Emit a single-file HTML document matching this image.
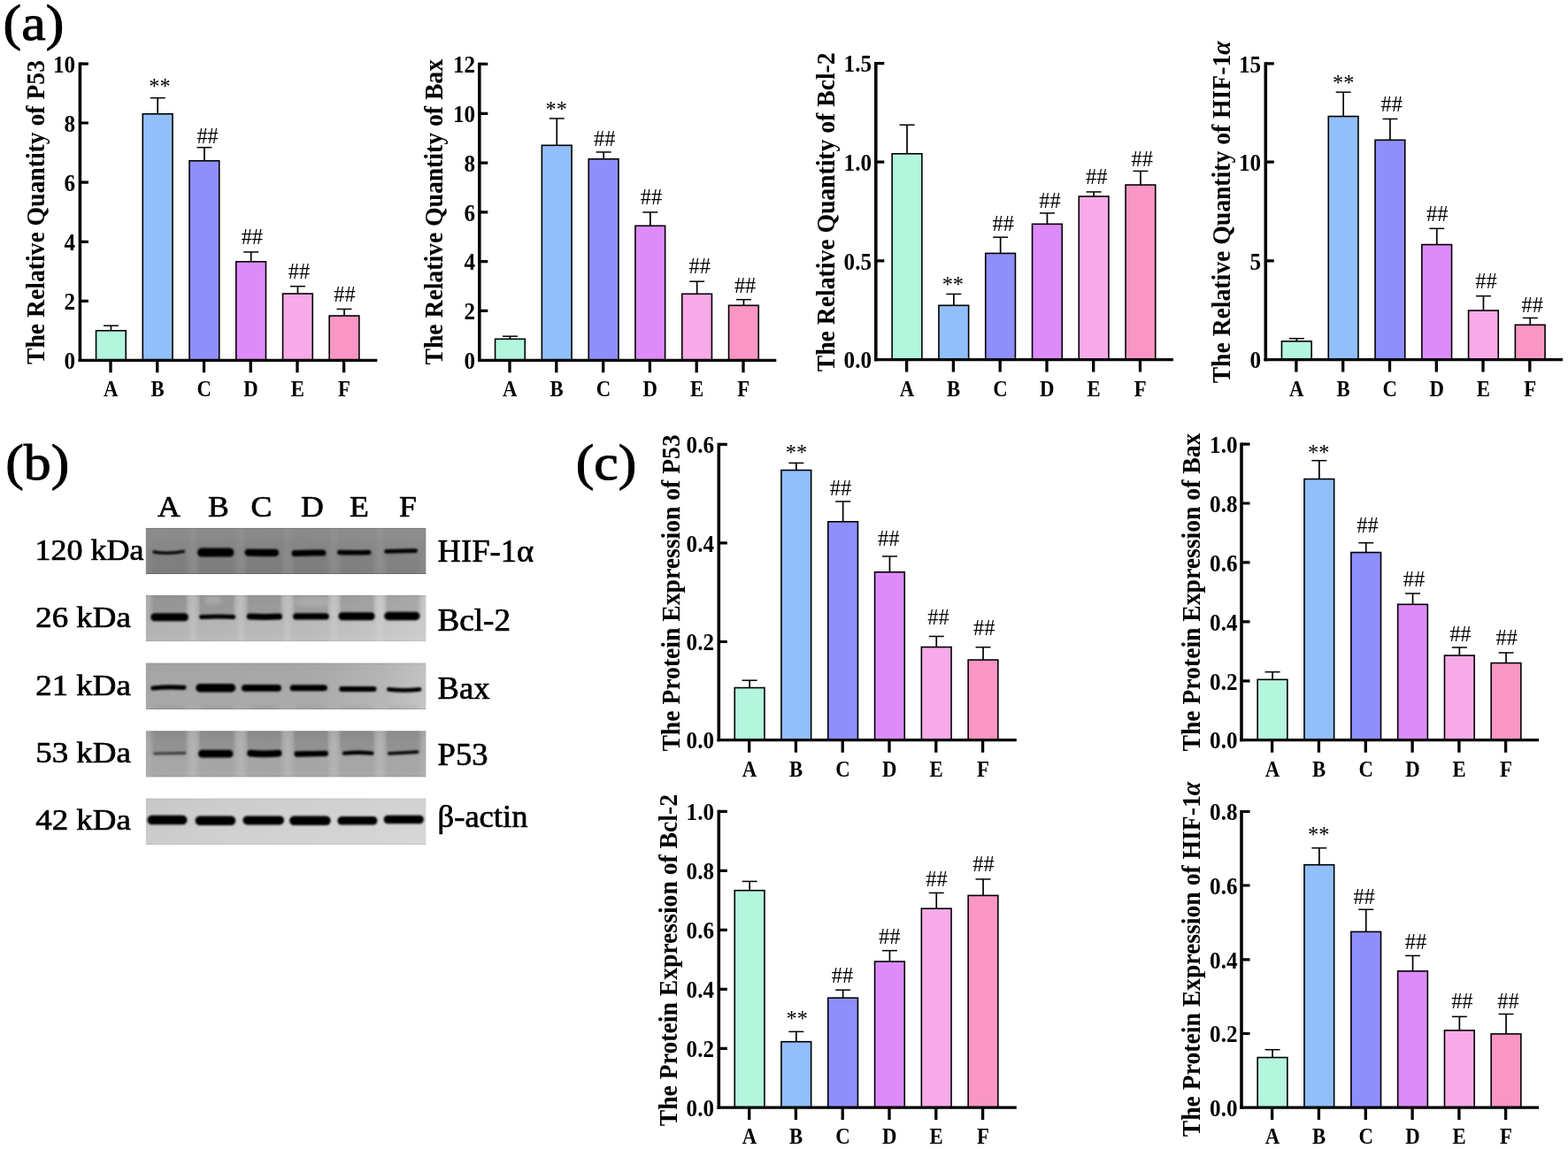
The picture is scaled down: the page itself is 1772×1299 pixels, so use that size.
<!DOCTYPE html>
<html lang="en"><head><meta charset="utf-8"><title>Figure</title><style>
html,body{margin:0;padding:0;background:#fff}
body{width:1772px;height:1299px;overflow:hidden}
svg{display:block}
text{font-family:"Liberation Serif", "DejaVu Serif", serif;fill:#000}
</style></head>
<body>
<svg width="1772" height="1299" viewBox="0 0 1772 1299">
<rect width="1772" height="1299" fill="#fff"/>
<g><path d="M125.45 374.00V368.20" stroke="#000" stroke-width="1.7" fill="none"/><path d="M116.95 368.20H133.95" stroke="#000" stroke-width="1.5" fill="none"/><rect x="108.55" y="373.80" width="33.70" height="33.50" fill="#b3f5dd" stroke="#000" stroke-width="1.6"/><path d="M178.20 129.00V110.70" stroke="#000" stroke-width="1.7" fill="none"/><path d="M169.70 110.70H186.70" stroke="#000" stroke-width="1.5" fill="none"/><rect x="161.30" y="128.80" width="33.70" height="278.50" fill="#90bffa" stroke="#000" stroke-width="1.6"/><path d="M230.95 182.00V166.70" stroke="#000" stroke-width="1.7" fill="none"/><path d="M222.45 166.70H239.45" stroke="#000" stroke-width="1.5" fill="none"/><rect x="214.05" y="181.80" width="33.70" height="225.50" fill="#8f8ffc" stroke="#000" stroke-width="1.6"/><path d="M283.70 296.00V284.95" stroke="#000" stroke-width="1.7" fill="none"/><path d="M275.20 284.95H292.20" stroke="#000" stroke-width="1.5" fill="none"/><rect x="266.80" y="295.80" width="33.70" height="111.50" fill="#dd8bfa" stroke="#000" stroke-width="1.6"/><path d="M336.45 332.25V323.70" stroke="#000" stroke-width="1.7" fill="none"/><path d="M327.95 323.70H344.95" stroke="#000" stroke-width="1.5" fill="none"/><rect x="319.55" y="332.05" width="33.70" height="75.25" fill="#f7aae7" stroke="#000" stroke-width="1.6"/><path d="M389.05 357.25V349.45" stroke="#000" stroke-width="1.7" fill="none"/><path d="M380.55 349.45H397.55" stroke="#000" stroke-width="1.5" fill="none"/><rect x="372.15" y="357.05" width="33.70" height="50.25" fill="#f996c4" stroke="#000" stroke-width="1.6"/><path d="M90.40 70.50V408.90" stroke="#000" stroke-width="3.55" fill="none"/><path d="M88.62 407.30H426.30" stroke="#000" stroke-width="3.2" fill="none"/><path d="M90.40 340.30h9.50M90.40 273.30h9.50M90.40 206.20h9.50M90.40 139.00h9.50M90.40 72.10h9.50" stroke="#000" stroke-width="3.2" fill="none"/><path d="M125.00 407.30v14.00M177.75 407.30v14.00M230.50 407.30v14.00M283.25 407.30v14.00M336.00 407.30v14.00M388.60 407.30v14.00" stroke="#000" stroke-width="3.3" fill="none"/><text transform="translate(85.00 417.00) scale(0.9450 1)" font-size="26.6" text-anchor="end" font-weight="bold">0</text><text transform="translate(85.00 350.00) scale(0.9450 1)" font-size="26.6" text-anchor="end" font-weight="bold">2</text><text transform="translate(85.00 283.00) scale(0.9450 1)" font-size="26.6" text-anchor="end" font-weight="bold">4</text><text transform="translate(85.00 215.90) scale(0.9450 1)" font-size="26.6" text-anchor="end" font-weight="bold">6</text><text transform="translate(85.00 148.70) scale(0.9450 1)" font-size="26.6" text-anchor="end" font-weight="bold">8</text><text transform="translate(85.00 81.80) scale(0.9450 1)" font-size="26.6" text-anchor="end" font-weight="bold">10</text><text transform="translate(125.30 448.10) scale(0.9100 1)" font-size="25" text-anchor="middle" font-weight="bold">A</text><text transform="translate(178.05 448.10) scale(0.9100 1)" font-size="25" text-anchor="middle" font-weight="bold">B</text><text transform="translate(230.80 448.10) scale(0.9100 1)" font-size="25" text-anchor="middle" font-weight="bold">C</text><text transform="translate(283.55 448.10) scale(0.9100 1)" font-size="25" text-anchor="middle" font-weight="bold">D</text><text transform="translate(336.30 448.10) scale(0.9100 1)" font-size="25" text-anchor="middle" font-weight="bold">E</text><text transform="translate(388.90 448.10) scale(0.9100 1)" font-size="25" text-anchor="middle" font-weight="bold">F</text><text transform="translate(180.45 105.95) scale(0.9450 1)" font-size="25.8" text-anchor="middle">**</text><text transform="translate(234.60 162.10) scale(0.9450 1)" font-size="25.8" text-anchor="middle">##</text><text transform="translate(284.85 275.85) scale(0.9450 1)" font-size="25.8" text-anchor="middle">##</text><text transform="translate(337.95 314.60) scale(0.9450 1)" font-size="25.8" text-anchor="middle">##</text><text transform="translate(389.45 340.85) scale(0.9450 1)" font-size="25.8" text-anchor="middle">##</text><text transform="translate(50.00 240.00) rotate(-90) scale(0.9280 1)" font-size="29.8" text-anchor="middle" font-weight="bold">The Relative Quantity of P53</text></g>
<g><path d="M576.45 383.50V380.20" stroke="#000" stroke-width="1.7" fill="none"/><path d="M567.95 380.20H584.95" stroke="#000" stroke-width="1.5" fill="none"/><rect x="559.55" y="383.30" width="33.70" height="24.00" fill="#b3f5dd" stroke="#000" stroke-width="1.6"/><path d="M629.25 164.50V133.95" stroke="#000" stroke-width="1.7" fill="none"/><path d="M620.75 133.95H637.75" stroke="#000" stroke-width="1.5" fill="none"/><rect x="612.35" y="164.30" width="33.70" height="243.00" fill="#90bffa" stroke="#000" stroke-width="1.6"/><path d="M682.15 180.00V171.95" stroke="#000" stroke-width="1.7" fill="none"/><path d="M673.65 171.95H690.65" stroke="#000" stroke-width="1.5" fill="none"/><rect x="665.25" y="179.80" width="33.70" height="227.50" fill="#8f8ffc" stroke="#000" stroke-width="1.6"/><path d="M734.85 255.50V239.95" stroke="#000" stroke-width="1.7" fill="none"/><path d="M726.35 239.95H743.35" stroke="#000" stroke-width="1.5" fill="none"/><rect x="717.95" y="255.30" width="33.70" height="152.00" fill="#dd8bfa" stroke="#000" stroke-width="1.6"/><path d="M787.65 332.50V318.20" stroke="#000" stroke-width="1.7" fill="none"/><path d="M779.15 318.20H796.15" stroke="#000" stroke-width="1.5" fill="none"/><rect x="770.75" y="332.30" width="33.70" height="75.00" fill="#f7aae7" stroke="#000" stroke-width="1.6"/><path d="M840.45 345.50V338.70" stroke="#000" stroke-width="1.7" fill="none"/><path d="M831.95 338.70H848.95" stroke="#000" stroke-width="1.5" fill="none"/><rect x="823.55" y="345.30" width="33.70" height="62.00" fill="#f996c4" stroke="#000" stroke-width="1.6"/><path d="M541.80 70.80V408.90" stroke="#000" stroke-width="3.55" fill="none"/><path d="M540.02 407.30H877.30" stroke="#000" stroke-width="3.2" fill="none"/><path d="M541.80 351.40h9.50M541.80 295.60h9.50M541.80 239.80h9.50M541.80 184.10h9.50M541.80 128.30h9.50M541.80 72.40h9.50" stroke="#000" stroke-width="3.2" fill="none"/><path d="M576.00 407.30v14.00M628.80 407.30v14.00M681.70 407.30v14.00M734.40 407.30v14.00M787.20 407.30v14.00M840.00 407.30v14.00" stroke="#000" stroke-width="3.3" fill="none"/><text transform="translate(537.00 417.00) scale(0.9450 1)" font-size="26.6" text-anchor="end" font-weight="bold">0</text><text transform="translate(537.00 361.10) scale(0.9450 1)" font-size="26.6" text-anchor="end" font-weight="bold">2</text><text transform="translate(537.00 305.30) scale(0.9450 1)" font-size="26.6" text-anchor="end" font-weight="bold">4</text><text transform="translate(537.00 249.50) scale(0.9450 1)" font-size="26.6" text-anchor="end" font-weight="bold">6</text><text transform="translate(537.00 193.80) scale(0.9450 1)" font-size="26.6" text-anchor="end" font-weight="bold">8</text><text transform="translate(537.00 138.00) scale(0.9450 1)" font-size="26.6" text-anchor="end" font-weight="bold">10</text><text transform="translate(537.00 82.10) scale(0.9450 1)" font-size="26.6" text-anchor="end" font-weight="bold">12</text><text transform="translate(576.30 448.10) scale(0.9100 1)" font-size="25" text-anchor="middle" font-weight="bold">A</text><text transform="translate(629.10 448.10) scale(0.9100 1)" font-size="25" text-anchor="middle" font-weight="bold">B</text><text transform="translate(682.00 448.10) scale(0.9100 1)" font-size="25" text-anchor="middle" font-weight="bold">C</text><text transform="translate(734.70 448.10) scale(0.9100 1)" font-size="25" text-anchor="middle" font-weight="bold">D</text><text transform="translate(787.50 448.10) scale(0.9100 1)" font-size="25" text-anchor="middle" font-weight="bold">E</text><text transform="translate(840.30 448.10) scale(0.9100 1)" font-size="25" text-anchor="middle" font-weight="bold">F</text><text transform="translate(628.75 132.20) scale(0.9450 1)" font-size="25.8" text-anchor="middle">**</text><text transform="translate(683.30 164.60) scale(0.9450 1)" font-size="25.8" text-anchor="middle">##</text><text transform="translate(736.00 230.85) scale(0.9450 1)" font-size="25.8" text-anchor="middle">##</text><text transform="translate(790.65 309.10) scale(0.9450 1)" font-size="25.8" text-anchor="middle">##</text><text transform="translate(842.10 330.85) scale(0.9450 1)" font-size="25.8" text-anchor="middle">##</text><text transform="translate(500.10 239.80) rotate(-90) scale(0.9280 1)" font-size="29.8" text-anchor="middle" font-weight="bold">The Relative Quantity of Bax</text></g>
<g><path d="M1025.05 174.00V141.20" stroke="#000" stroke-width="1.7" fill="none"/><path d="M1016.55 141.20H1033.55" stroke="#000" stroke-width="1.5" fill="none"/><rect x="1008.15" y="173.80" width="33.70" height="232.80" fill="#b3f5dd" stroke="#000" stroke-width="1.6"/><path d="M1077.85 345.50V332.45" stroke="#000" stroke-width="1.7" fill="none"/><path d="M1069.35 332.45H1086.35" stroke="#000" stroke-width="1.5" fill="none"/><rect x="1060.95" y="345.30" width="33.70" height="61.30" fill="#90bffa" stroke="#000" stroke-width="1.6"/><path d="M1130.65 286.60V268.20" stroke="#000" stroke-width="1.7" fill="none"/><path d="M1122.15 268.20H1139.15" stroke="#000" stroke-width="1.5" fill="none"/><rect x="1113.75" y="286.40" width="33.70" height="120.20" fill="#8f8ffc" stroke="#000" stroke-width="1.6"/><path d="M1183.45 253.50V240.95" stroke="#000" stroke-width="1.7" fill="none"/><path d="M1174.95 240.95H1191.95" stroke="#000" stroke-width="1.5" fill="none"/><rect x="1166.55" y="253.30" width="33.70" height="153.30" fill="#dd8bfa" stroke="#000" stroke-width="1.6"/><path d="M1236.15 222.25V216.95" stroke="#000" stroke-width="1.7" fill="none"/><path d="M1227.65 216.95H1244.65" stroke="#000" stroke-width="1.5" fill="none"/><rect x="1219.25" y="222.05" width="33.70" height="184.55" fill="#f7aae7" stroke="#000" stroke-width="1.6"/><path d="M1288.95 209.25V193.45" stroke="#000" stroke-width="1.7" fill="none"/><path d="M1280.45 193.45H1297.45" stroke="#000" stroke-width="1.5" fill="none"/><rect x="1272.05" y="209.05" width="33.70" height="197.55" fill="#f996c4" stroke="#000" stroke-width="1.6"/><path d="M989.80 70.00V408.20" stroke="#000" stroke-width="3.55" fill="none"/><path d="M988.02 406.60H1326.00" stroke="#000" stroke-width="3.2" fill="none"/><path d="M989.80 294.80h9.50M989.80 183.10h9.50M989.80 71.60h9.50" stroke="#000" stroke-width="3.2" fill="none"/><path d="M1024.60 406.60v14.00M1077.40 406.60v14.00M1130.20 406.60v14.00M1183.00 406.60v14.00M1235.70 406.60v14.00M1288.50 406.60v14.00" stroke="#000" stroke-width="3.3" fill="none"/><text transform="translate(985.00 416.30) scale(0.9450 1)" font-size="26.6" text-anchor="end" font-weight="bold">0.0</text><text transform="translate(985.00 304.50) scale(0.9450 1)" font-size="26.6" text-anchor="end" font-weight="bold">0.5</text><text transform="translate(985.00 192.80) scale(0.9450 1)" font-size="26.6" text-anchor="end" font-weight="bold">1.0</text><text transform="translate(985.00 81.30) scale(0.9450 1)" font-size="26.6" text-anchor="end" font-weight="bold">1.5</text><text transform="translate(1024.90 447.80) scale(0.9100 1)" font-size="25" text-anchor="middle" font-weight="bold">A</text><text transform="translate(1077.70 447.80) scale(0.9100 1)" font-size="25" text-anchor="middle" font-weight="bold">B</text><text transform="translate(1130.50 447.80) scale(0.9100 1)" font-size="25" text-anchor="middle" font-weight="bold">C</text><text transform="translate(1183.30 447.80) scale(0.9100 1)" font-size="25" text-anchor="middle" font-weight="bold">D</text><text transform="translate(1236.00 447.80) scale(0.9100 1)" font-size="25" text-anchor="middle" font-weight="bold">E</text><text transform="translate(1288.80 447.80) scale(0.9100 1)" font-size="25" text-anchor="middle" font-weight="bold">F</text><text transform="translate(1076.85 329.70) scale(0.9450 1)" font-size="25.8" text-anchor="middle">**</text><text transform="translate(1133.65 260.85) scale(0.9450 1)" font-size="25.8" text-anchor="middle">##</text><text transform="translate(1186.45 234.60) scale(0.9450 1)" font-size="25.8" text-anchor="middle">##</text><text transform="translate(1239.15 208.35) scale(0.9450 1)" font-size="25.8" text-anchor="middle">##</text><text transform="translate(1290.70 188.35) scale(0.9450 1)" font-size="25.8" text-anchor="middle">##</text><text transform="translate(942.80 239.80) rotate(-90) scale(0.9280 1)" font-size="29.8" text-anchor="middle" font-weight="bold">The Relative Quantity of Bcl-2</text></g>
<g><path d="M1465.35 386.00V382.70" stroke="#000" stroke-width="1.7" fill="none"/><path d="M1456.85 382.70H1473.85" stroke="#000" stroke-width="1.5" fill="none"/><rect x="1448.45" y="385.80" width="33.70" height="20.80" fill="#b3f5dd" stroke="#000" stroke-width="1.6"/><path d="M1518.15 131.75V104.20" stroke="#000" stroke-width="1.7" fill="none"/><path d="M1509.65 104.20H1526.65" stroke="#000" stroke-width="1.5" fill="none"/><rect x="1501.25" y="131.55" width="33.70" height="275.05" fill="#90bffa" stroke="#000" stroke-width="1.6"/><path d="M1570.95 158.50V134.45" stroke="#000" stroke-width="1.7" fill="none"/><path d="M1562.45 134.45H1579.45" stroke="#000" stroke-width="1.5" fill="none"/><rect x="1554.05" y="158.30" width="33.70" height="248.30" fill="#8f8ffc" stroke="#000" stroke-width="1.6"/><path d="M1623.75 276.75V258.35" stroke="#000" stroke-width="1.7" fill="none"/><path d="M1615.25 258.35H1632.25" stroke="#000" stroke-width="1.5" fill="none"/><rect x="1606.85" y="276.55" width="33.70" height="130.05" fill="#dd8bfa" stroke="#000" stroke-width="1.6"/><path d="M1676.45 351.25V334.70" stroke="#000" stroke-width="1.7" fill="none"/><path d="M1667.95 334.70H1684.95" stroke="#000" stroke-width="1.5" fill="none"/><rect x="1659.55" y="351.05" width="33.70" height="55.55" fill="#f7aae7" stroke="#000" stroke-width="1.6"/><path d="M1729.25 367.50V359.45" stroke="#000" stroke-width="1.7" fill="none"/><path d="M1720.75 359.45H1737.75" stroke="#000" stroke-width="1.5" fill="none"/><rect x="1712.35" y="367.30" width="33.70" height="39.30" fill="#f996c4" stroke="#000" stroke-width="1.6"/><path d="M1430.30 70.20V408.20" stroke="#000" stroke-width="3.55" fill="none"/><path d="M1428.52 406.60H1766.00" stroke="#000" stroke-width="3.2" fill="none"/><path d="M1430.30 294.80h9.50M1430.30 183.20h9.50M1430.30 71.80h9.50" stroke="#000" stroke-width="3.2" fill="none"/><path d="M1464.90 406.60v14.00M1517.70 406.60v14.00M1570.50 406.60v14.00M1623.30 406.60v14.00M1676.00 406.60v14.00M1728.80 406.60v14.00" stroke="#000" stroke-width="3.3" fill="none"/><text transform="translate(1425.00 416.30) scale(0.9450 1)" font-size="26.6" text-anchor="end" font-weight="bold">0</text><text transform="translate(1425.00 304.50) scale(0.9450 1)" font-size="26.6" text-anchor="end" font-weight="bold">5</text><text transform="translate(1425.00 192.90) scale(0.9450 1)" font-size="26.6" text-anchor="end" font-weight="bold">10</text><text transform="translate(1425.00 81.50) scale(0.9450 1)" font-size="26.6" text-anchor="end" font-weight="bold">15</text><text transform="translate(1465.20 447.80) scale(0.9100 1)" font-size="25" text-anchor="middle" font-weight="bold">A</text><text transform="translate(1518.00 447.80) scale(0.9100 1)" font-size="25" text-anchor="middle" font-weight="bold">B</text><text transform="translate(1570.80 447.80) scale(0.9100 1)" font-size="25" text-anchor="middle" font-weight="bold">C</text><text transform="translate(1623.60 447.80) scale(0.9100 1)" font-size="25" text-anchor="middle" font-weight="bold">D</text><text transform="translate(1676.30 447.80) scale(0.9100 1)" font-size="25" text-anchor="middle" font-weight="bold">E</text><text transform="translate(1729.10 447.80) scale(0.9100 1)" font-size="25" text-anchor="middle" font-weight="bold">F</text><text transform="translate(1518.15 102.20) scale(0.9450 1)" font-size="25.8" text-anchor="middle">**</text><text transform="translate(1572.80 125.85) scale(0.9450 1)" font-size="25.8" text-anchor="middle">##</text><text transform="translate(1624.25 249.60) scale(0.9450 1)" font-size="25.8" text-anchor="middle">##</text><text transform="translate(1679.45 326.35) scale(0.9450 1)" font-size="25.8" text-anchor="middle">##</text><text transform="translate(1731.75 353.35) scale(0.9450 1)" font-size="25.8" text-anchor="middle">##</text><text transform="translate(1389.80 239.90) rotate(-90) scale(0.9280 1)" font-size="29.8" text-anchor="middle" font-weight="bold">The Relative Quantity of HIF-1<tspan font-style="italic">α</tspan></text></g>
<g><path d="M847.15 777.75V769.20" stroke="#000" stroke-width="1.7" fill="none"/><path d="M838.65 769.20H855.65" stroke="#000" stroke-width="1.5" fill="none"/><rect x="830.25" y="777.55" width="33.70" height="59.15" fill="#b3f5dd" stroke="#000" stroke-width="1.6"/><path d="M899.85 531.75V523.45" stroke="#000" stroke-width="1.7" fill="none"/><path d="M891.35 523.45H908.35" stroke="#000" stroke-width="1.5" fill="none"/><rect x="882.95" y="531.55" width="33.70" height="305.15" fill="#90bffa" stroke="#000" stroke-width="1.6"/><path d="M952.65 590.00V566.95" stroke="#000" stroke-width="1.7" fill="none"/><path d="M944.15 566.95H961.15" stroke="#000" stroke-width="1.5" fill="none"/><rect x="935.75" y="589.80" width="33.70" height="246.90" fill="#8f8ffc" stroke="#000" stroke-width="1.6"/><path d="M1005.45 647.00V628.95" stroke="#000" stroke-width="1.7" fill="none"/><path d="M996.95 628.95H1013.95" stroke="#000" stroke-width="1.5" fill="none"/><rect x="988.55" y="646.80" width="33.70" height="189.90" fill="#dd8bfa" stroke="#000" stroke-width="1.6"/><path d="M1058.25 731.75V719.45" stroke="#000" stroke-width="1.7" fill="none"/><path d="M1049.75 719.45H1066.75" stroke="#000" stroke-width="1.5" fill="none"/><rect x="1041.35" y="731.55" width="33.70" height="105.15" fill="#f7aae7" stroke="#000" stroke-width="1.6"/><path d="M1111.05 746.25V731.70" stroke="#000" stroke-width="1.7" fill="none"/><path d="M1102.55 731.70H1119.55" stroke="#000" stroke-width="1.5" fill="none"/><rect x="1094.15" y="746.05" width="33.70" height="90.65" fill="#f996c4" stroke="#000" stroke-width="1.6"/><path d="M812.30 500.70V838.30" stroke="#000" stroke-width="3.55" fill="none"/><path d="M810.52 836.70H1148.80" stroke="#000" stroke-width="3.2" fill="none"/><path d="M812.30 725.50h9.50M812.30 613.90h9.50M812.30 502.30h9.50" stroke="#000" stroke-width="3.2" fill="none"/><path d="M846.70 836.70v14.00M899.40 836.70v14.00M952.20 836.70v14.00M1005.00 836.70v14.00M1057.80 836.70v14.00M1110.60 836.70v14.00" stroke="#000" stroke-width="3.3" fill="none"/><text transform="translate(807.00 846.40) scale(0.9450 1)" font-size="26.6" text-anchor="end" font-weight="bold">0.0</text><text transform="translate(807.00 735.20) scale(0.9450 1)" font-size="26.6" text-anchor="end" font-weight="bold">0.2</text><text transform="translate(807.00 623.60) scale(0.9450 1)" font-size="26.6" text-anchor="end" font-weight="bold">0.4</text><text transform="translate(807.00 512.00) scale(0.9450 1)" font-size="26.6" text-anchor="end" font-weight="bold">0.6</text><text transform="translate(847.00 877.90) scale(0.9100 1)" font-size="25" text-anchor="middle" font-weight="bold">A</text><text transform="translate(899.70 877.90) scale(0.9100 1)" font-size="25" text-anchor="middle" font-weight="bold">B</text><text transform="translate(952.50 877.90) scale(0.9100 1)" font-size="25" text-anchor="middle" font-weight="bold">C</text><text transform="translate(1005.30 877.90) scale(0.9100 1)" font-size="25" text-anchor="middle" font-weight="bold">D</text><text transform="translate(1058.10 877.90) scale(0.9100 1)" font-size="25" text-anchor="middle" font-weight="bold">E</text><text transform="translate(1110.90 877.90) scale(0.9100 1)" font-size="25" text-anchor="middle" font-weight="bold">F</text><text transform="translate(900.00 520.45) scale(0.9450 1)" font-size="25.8" text-anchor="middle">**</text><text transform="translate(950.00 559.60) scale(0.9450 1)" font-size="25.8" text-anchor="middle">##</text><text transform="translate(1004.20 616.60) scale(0.9450 1)" font-size="25.8" text-anchor="middle">##</text><text transform="translate(1060.50 705.85) scale(0.9450 1)" font-size="25.8" text-anchor="middle">##</text><text transform="translate(1112.20 717.60) scale(0.9450 1)" font-size="25.8" text-anchor="middle">##</text><text transform="translate(767.70 670.40) rotate(-90) scale(0.9280 1)" font-size="29.8" text-anchor="middle" font-weight="bold">The Protein Expression of P53</text></g>
<g><path d="M1438.05 768.50V759.70" stroke="#000" stroke-width="1.7" fill="none"/><path d="M1429.55 759.70H1446.55" stroke="#000" stroke-width="1.5" fill="none"/><rect x="1421.15" y="768.30" width="33.70" height="68.40" fill="#b3f5dd" stroke="#000" stroke-width="1.6"/><path d="M1490.85 541.75V520.70" stroke="#000" stroke-width="1.7" fill="none"/><path d="M1482.35 520.70H1499.35" stroke="#000" stroke-width="1.5" fill="none"/><rect x="1473.95" y="541.55" width="33.70" height="295.15" fill="#90bffa" stroke="#000" stroke-width="1.6"/><path d="M1543.75 624.75V613.70" stroke="#000" stroke-width="1.7" fill="none"/><path d="M1535.25 613.70H1552.25" stroke="#000" stroke-width="1.5" fill="none"/><rect x="1526.85" y="624.55" width="33.70" height="212.15" fill="#8f8ffc" stroke="#000" stroke-width="1.6"/><path d="M1596.55 683.50V670.95" stroke="#000" stroke-width="1.7" fill="none"/><path d="M1588.05 670.95H1605.05" stroke="#000" stroke-width="1.5" fill="none"/><rect x="1579.65" y="683.30" width="33.70" height="153.40" fill="#dd8bfa" stroke="#000" stroke-width="1.6"/><path d="M1649.35 741.25V731.95" stroke="#000" stroke-width="1.7" fill="none"/><path d="M1640.85 731.95H1657.85" stroke="#000" stroke-width="1.5" fill="none"/><rect x="1632.45" y="741.05" width="33.70" height="95.65" fill="#f7aae7" stroke="#000" stroke-width="1.6"/><path d="M1702.05 749.75V737.95" stroke="#000" stroke-width="1.7" fill="none"/><path d="M1693.55 737.95H1710.55" stroke="#000" stroke-width="1.5" fill="none"/><rect x="1685.15" y="749.55" width="33.70" height="87.15" fill="#f996c4" stroke="#000" stroke-width="1.6"/><path d="M1403.00 500.50V838.30" stroke="#000" stroke-width="3.55" fill="none"/><path d="M1401.22 836.70H1739.00" stroke="#000" stroke-width="3.2" fill="none"/><path d="M1403.00 769.80h9.50M1403.00 702.80h9.50M1403.00 635.80h9.50M1403.00 569.00h9.50M1403.00 502.10h9.50" stroke="#000" stroke-width="3.2" fill="none"/><path d="M1437.60 836.70v14.00M1490.40 836.70v14.00M1543.30 836.70v14.00M1596.10 836.70v14.00M1648.90 836.70v14.00M1701.60 836.70v14.00" stroke="#000" stroke-width="3.3" fill="none"/><text transform="translate(1398.50 846.40) scale(0.9450 1)" font-size="26.6" text-anchor="end" font-weight="bold">0.0</text><text transform="translate(1398.50 779.50) scale(0.9450 1)" font-size="26.6" text-anchor="end" font-weight="bold">0.2</text><text transform="translate(1398.50 712.50) scale(0.9450 1)" font-size="26.6" text-anchor="end" font-weight="bold">0.4</text><text transform="translate(1398.50 645.50) scale(0.9450 1)" font-size="26.6" text-anchor="end" font-weight="bold">0.6</text><text transform="translate(1398.50 578.70) scale(0.9450 1)" font-size="26.6" text-anchor="end" font-weight="bold">0.8</text><text transform="translate(1398.50 511.80) scale(0.9450 1)" font-size="26.6" text-anchor="end" font-weight="bold">1.0</text><text transform="translate(1437.90 877.90) scale(0.9100 1)" font-size="25" text-anchor="middle" font-weight="bold">A</text><text transform="translate(1490.70 877.90) scale(0.9100 1)" font-size="25" text-anchor="middle" font-weight="bold">B</text><text transform="translate(1543.60 877.90) scale(0.9100 1)" font-size="25" text-anchor="middle" font-weight="bold">C</text><text transform="translate(1596.40 877.90) scale(0.9100 1)" font-size="25" text-anchor="middle" font-weight="bold">D</text><text transform="translate(1649.20 877.90) scale(0.9100 1)" font-size="25" text-anchor="middle" font-weight="bold">E</text><text transform="translate(1701.90 877.90) scale(0.9100 1)" font-size="25" text-anchor="middle" font-weight="bold">F</text><text transform="translate(1490.20 520.45) scale(0.9450 1)" font-size="25.8" text-anchor="middle">**</text><text transform="translate(1545.40 602.10) scale(0.9450 1)" font-size="25.8" text-anchor="middle">##</text><text transform="translate(1597.90 662.60) scale(0.9450 1)" font-size="25.8" text-anchor="middle">##</text><text transform="translate(1650.35 725.35) scale(0.9450 1)" font-size="25.8" text-anchor="middle">##</text><text transform="translate(1702.80 728.85) scale(0.9450 1)" font-size="25.8" text-anchor="middle">##</text><text transform="translate(1356.30 669.60) rotate(-90) scale(0.9280 1)" font-size="29.8" text-anchor="middle" font-weight="bold">The Protein Expression of Bax</text></g>
<g><path d="M847.15 1006.90V996.45" stroke="#000" stroke-width="1.7" fill="none"/><path d="M838.65 996.45H855.65" stroke="#000" stroke-width="1.5" fill="none"/><rect x="830.25" y="1006.70" width="33.70" height="245.40" fill="#b3f5dd" stroke="#000" stroke-width="1.6"/><path d="M899.85 1177.90V1166.35" stroke="#000" stroke-width="1.7" fill="none"/><path d="M891.35 1166.35H908.35" stroke="#000" stroke-width="1.5" fill="none"/><rect x="882.95" y="1177.70" width="33.70" height="74.40" fill="#90bffa" stroke="#000" stroke-width="1.6"/><path d="M952.65 1128.40V1119.20" stroke="#000" stroke-width="1.7" fill="none"/><path d="M944.15 1119.20H961.15" stroke="#000" stroke-width="1.5" fill="none"/><rect x="935.75" y="1128.20" width="33.70" height="123.90" fill="#8f8ffc" stroke="#000" stroke-width="1.6"/><path d="M1005.45 1087.25V1074.70" stroke="#000" stroke-width="1.7" fill="none"/><path d="M996.95 1074.70H1013.95" stroke="#000" stroke-width="1.5" fill="none"/><rect x="988.55" y="1087.05" width="33.70" height="165.05" fill="#dd8bfa" stroke="#000" stroke-width="1.6"/><path d="M1058.25 1027.40V1009.45" stroke="#000" stroke-width="1.7" fill="none"/><path d="M1049.75 1009.45H1066.75" stroke="#000" stroke-width="1.5" fill="none"/><rect x="1041.35" y="1027.20" width="33.70" height="224.90" fill="#f7aae7" stroke="#000" stroke-width="1.6"/><path d="M1111.05 1012.60V993.95" stroke="#000" stroke-width="1.7" fill="none"/><path d="M1102.55 993.95H1119.55" stroke="#000" stroke-width="1.5" fill="none"/><rect x="1094.15" y="1012.40" width="33.70" height="239.70" fill="#f996c4" stroke="#000" stroke-width="1.6"/><path d="M812.30 915.70V1253.70" stroke="#000" stroke-width="3.55" fill="none"/><path d="M810.52 1252.10H1148.80" stroke="#000" stroke-width="3.2" fill="none"/><path d="M812.30 1185.40h9.50M812.30 1118.40h9.50M812.30 1051.40h9.50M812.30 984.30h9.50M812.30 917.30h9.50" stroke="#000" stroke-width="3.2" fill="none"/><path d="M846.70 1252.10v14.00M899.40 1252.10v14.00M952.20 1252.10v14.00M1005.00 1252.10v14.00M1057.80 1252.10v14.00M1110.60 1252.10v14.00" stroke="#000" stroke-width="3.3" fill="none"/><text transform="translate(807.00 1261.80) scale(0.9450 1)" font-size="26.6" text-anchor="end" font-weight="bold">0.0</text><text transform="translate(807.00 1195.10) scale(0.9450 1)" font-size="26.6" text-anchor="end" font-weight="bold">0.2</text><text transform="translate(807.00 1128.10) scale(0.9450 1)" font-size="26.6" text-anchor="end" font-weight="bold">0.4</text><text transform="translate(807.00 1061.10) scale(0.9450 1)" font-size="26.6" text-anchor="end" font-weight="bold">0.6</text><text transform="translate(807.00 994.00) scale(0.9450 1)" font-size="26.6" text-anchor="end" font-weight="bold">0.8</text><text transform="translate(807.00 927.00) scale(0.9450 1)" font-size="26.6" text-anchor="end" font-weight="bold">1.0</text><text transform="translate(847.00 1293.20) scale(0.9100 1)" font-size="25" text-anchor="middle" font-weight="bold">A</text><text transform="translate(899.70 1293.20) scale(0.9100 1)" font-size="25" text-anchor="middle" font-weight="bold">B</text><text transform="translate(952.50 1293.20) scale(0.9100 1)" font-size="25" text-anchor="middle" font-weight="bold">C</text><text transform="translate(1005.30 1293.20) scale(0.9100 1)" font-size="25" text-anchor="middle" font-weight="bold">D</text><text transform="translate(1058.10 1293.20) scale(0.9100 1)" font-size="25" text-anchor="middle" font-weight="bold">E</text><text transform="translate(1110.90 1293.20) scale(0.9100 1)" font-size="25" text-anchor="middle" font-weight="bold">F</text><text transform="translate(900.70 1160.10) scale(0.9450 1)" font-size="25.8" text-anchor="middle">**</text><text transform="translate(952.00 1110.85) scale(0.9450 1)" font-size="25.8" text-anchor="middle">##</text><text transform="translate(1005.20 1067.10) scale(0.9450 1)" font-size="25.8" text-anchor="middle">##</text><text transform="translate(1058.50 1002.10) scale(0.9450 1)" font-size="25.8" text-anchor="middle">##</text><text transform="translate(1111.45 985.10) scale(0.9450 1)" font-size="25.8" text-anchor="middle">##</text><text transform="translate(765.30 1085.60) rotate(-90) scale(0.9280 1)" font-size="29.8" text-anchor="middle" font-weight="bold">The Protein Expression of Bcl-2</text></g>
<g><path d="M1438.05 1195.75V1186.70" stroke="#000" stroke-width="1.7" fill="none"/><path d="M1429.55 1186.70H1446.55" stroke="#000" stroke-width="1.5" fill="none"/><rect x="1421.15" y="1195.55" width="33.70" height="56.55" fill="#b3f5dd" stroke="#000" stroke-width="1.6"/><path d="M1490.85 977.90V958.70" stroke="#000" stroke-width="1.7" fill="none"/><path d="M1482.35 958.70H1499.35" stroke="#000" stroke-width="1.5" fill="none"/><rect x="1473.95" y="977.70" width="33.70" height="274.40" fill="#90bffa" stroke="#000" stroke-width="1.6"/><path d="M1543.75 1053.60V1028.20" stroke="#000" stroke-width="1.7" fill="none"/><path d="M1535.25 1028.20H1552.25" stroke="#000" stroke-width="1.5" fill="none"/><rect x="1526.85" y="1053.40" width="33.70" height="198.70" fill="#8f8ffc" stroke="#000" stroke-width="1.6"/><path d="M1596.55 1098.10V1080.45" stroke="#000" stroke-width="1.7" fill="none"/><path d="M1588.05 1080.45H1605.05" stroke="#000" stroke-width="1.5" fill="none"/><rect x="1579.65" y="1097.90" width="33.70" height="154.20" fill="#dd8bfa" stroke="#000" stroke-width="1.6"/><path d="M1649.35 1165.10V1149.35" stroke="#000" stroke-width="1.7" fill="none"/><path d="M1640.85 1149.35H1657.85" stroke="#000" stroke-width="1.5" fill="none"/><rect x="1632.45" y="1164.90" width="33.70" height="87.20" fill="#f7aae7" stroke="#000" stroke-width="1.6"/><path d="M1702.05 1169.10V1146.45" stroke="#000" stroke-width="1.7" fill="none"/><path d="M1693.55 1146.45H1710.55" stroke="#000" stroke-width="1.5" fill="none"/><rect x="1685.15" y="1168.90" width="33.70" height="83.20" fill="#f996c4" stroke="#000" stroke-width="1.6"/><path d="M1403.00 915.90V1253.70" stroke="#000" stroke-width="3.55" fill="none"/><path d="M1401.22 1252.10H1739.00" stroke="#000" stroke-width="3.2" fill="none"/><path d="M1403.00 1168.50h9.50M1403.00 1084.80h9.50M1403.00 1001.00h9.50M1403.00 917.50h9.50" stroke="#000" stroke-width="3.2" fill="none"/><path d="M1437.60 1252.10v14.00M1490.40 1252.10v14.00M1543.30 1252.10v14.00M1596.10 1252.10v14.00M1648.90 1252.10v14.00M1701.60 1252.10v14.00" stroke="#000" stroke-width="3.3" fill="none"/><text transform="translate(1398.50 1261.80) scale(0.9450 1)" font-size="26.6" text-anchor="end" font-weight="bold">0.0</text><text transform="translate(1398.50 1178.20) scale(0.9450 1)" font-size="26.6" text-anchor="end" font-weight="bold">0.2</text><text transform="translate(1398.50 1094.50) scale(0.9450 1)" font-size="26.6" text-anchor="end" font-weight="bold">0.4</text><text transform="translate(1398.50 1010.70) scale(0.9450 1)" font-size="26.6" text-anchor="end" font-weight="bold">0.6</text><text transform="translate(1398.50 927.20) scale(0.9450 1)" font-size="26.6" text-anchor="end" font-weight="bold">0.8</text><text transform="translate(1437.90 1293.20) scale(0.9100 1)" font-size="25" text-anchor="middle" font-weight="bold">A</text><text transform="translate(1490.70 1293.20) scale(0.9100 1)" font-size="25" text-anchor="middle" font-weight="bold">B</text><text transform="translate(1543.60 1293.20) scale(0.9100 1)" font-size="25" text-anchor="middle" font-weight="bold">C</text><text transform="translate(1596.40 1293.20) scale(0.9100 1)" font-size="25" text-anchor="middle" font-weight="bold">D</text><text transform="translate(1649.20 1293.20) scale(0.9100 1)" font-size="25" text-anchor="middle" font-weight="bold">E</text><text transform="translate(1701.90 1293.20) scale(0.9100 1)" font-size="25" text-anchor="middle" font-weight="bold">F</text><text transform="translate(1490.20 951.70) scale(0.9450 1)" font-size="25.8" text-anchor="middle">**</text><text transform="translate(1541.60 1022.10) scale(0.9450 1)" font-size="25.8" text-anchor="middle">##</text><text transform="translate(1599.90 1073.35) scale(0.9450 1)" font-size="25.8" text-anchor="middle">##</text><text transform="translate(1652.35 1140.35) scale(0.9450 1)" font-size="25.8" text-anchor="middle">##</text><text transform="translate(1704.55 1140.35) scale(0.9450 1)" font-size="25.8" text-anchor="middle">##</text><text transform="translate(1356.30 1084.60) rotate(-90) scale(0.9280 1)" font-size="29.8" text-anchor="middle" font-weight="bold">The Protein Expression of HIF-1<tspan font-style="italic">α</tspan></text></g>
<text transform="translate(3.60 44.80) scale(1.0700 1)" font-size="57.8" stroke="#000" stroke-width="1.0" stroke-linejoin="round">(a)</text>
<text transform="translate(6.20 542.00) scale(1.0700 1)" font-size="57.8" stroke="#000" stroke-width="1.0" stroke-linejoin="round">(b)</text>
<text transform="translate(650.70 542.00) scale(1.0700 1)" font-size="57.8" stroke="#000" stroke-width="1.0" stroke-linejoin="round">(c)</text>
<text transform="translate(191.00 583.80) scale(1.0500 1)" font-size="34" text-anchor="middle" stroke="#000" stroke-width="0.7" stroke-linejoin="round">A</text>
<text transform="translate(247.00 583.80) scale(1.0500 1)" font-size="34" text-anchor="middle" stroke="#000" stroke-width="0.7" stroke-linejoin="round">B</text>
<text transform="translate(295.50 583.80) scale(1.0500 1)" font-size="34" text-anchor="middle" stroke="#000" stroke-width="0.7" stroke-linejoin="round">C</text>
<text transform="translate(353.00 583.80) scale(1.0500 1)" font-size="34" text-anchor="middle" stroke="#000" stroke-width="0.7" stroke-linejoin="round">D</text>
<text transform="translate(406.00 583.80) scale(1.0500 1)" font-size="34" text-anchor="middle" stroke="#000" stroke-width="0.7" stroke-linejoin="round">E</text>
<text transform="translate(461.00 583.80) scale(1.0500 1)" font-size="34" text-anchor="middle" stroke="#000" stroke-width="0.7" stroke-linejoin="round">F</text>
<defs><filter id="bl" filterUnits="userSpaceOnUse" x="150" y="580" width="350" height="400"><feGaussianBlur stdDeviation="1.1 0.9"/></filter><filter id="bl2" filterUnits="userSpaceOnUse" x="150" y="580" width="350" height="400"><feGaussianBlur stdDeviation="2.2"/></filter><linearGradient id="g0" x1="0" x2="1" y1="0" y2="0"><stop offset="0" stop-color="#878787"/><stop offset="0.5" stop-color="#858585"/><stop offset="1" stop-color="#8a8a8a"/></linearGradient><linearGradient id="v0" x1="0" x2="0" y1="0" y2="1"><stop offset="0" stop-color="#fff" stop-opacity="0.05"/><stop offset="0.4" stop-color="#fff" stop-opacity="0"/><stop offset="1" stop-color="#000" stop-opacity="0.02"/></linearGradient><clipPath id="c0"><rect x="164.6" y="596.8" width="317.00" height="52.20"/></clipPath><linearGradient id="g1" x1="0" x2="1" y1="0" y2="0"><stop offset="0" stop-color="#b0b0b0"/><stop offset="0.6" stop-color="#b8b8b8"/><stop offset="1" stop-color="#cacaca"/></linearGradient><linearGradient id="v1" x1="0" x2="0" y1="0" y2="1"><stop offset="0" stop-color="#000" stop-opacity="0.03"/><stop offset="0.5" stop-color="#fff" stop-opacity="0"/><stop offset="1" stop-color="#fff" stop-opacity="0.08"/></linearGradient><clipPath id="c1"><rect x="164.6" y="673.0" width="317.00" height="52.20"/></clipPath><linearGradient id="g2" x1="0" x2="1" y1="0" y2="0"><stop offset="0" stop-color="#a6a6a6"/><stop offset="0.6" stop-color="#a9a9a9"/><stop offset="0.85" stop-color="#b6b6b6"/><stop offset="1" stop-color="#c4c4c4"/></linearGradient><linearGradient id="v2" x1="0" x2="0" y1="0" y2="1"><stop offset="0" stop-color="#000" stop-opacity="0.03"/><stop offset="0.5" stop-color="#fff" stop-opacity="0"/><stop offset="1" stop-color="#fff" stop-opacity="0.03"/></linearGradient><clipPath id="c2"><rect x="164.6" y="749.4" width="317.00" height="52.60"/></clipPath><linearGradient id="g3" x1="0" x2="1" y1="0" y2="0"><stop offset="0" stop-color="#ababab"/><stop offset="0.5" stop-color="#aaaaaa"/><stop offset="1" stop-color="#acacac"/></linearGradient><linearGradient id="v3" x1="0" x2="0" y1="0" y2="1"><stop offset="0" stop-color="#000" stop-opacity="0.05"/><stop offset="0.5" stop-color="#fff" stop-opacity="0"/><stop offset="1" stop-color="#fff" stop-opacity="0.03"/></linearGradient><clipPath id="c3"><rect x="164.6" y="826.3" width="317.00" height="52.30"/></clipPath><linearGradient id="g4" x1="0" x2="1" y1="0" y2="0"><stop offset="0" stop-color="#c9c9c9"/><stop offset="0.3" stop-color="#cfcfcf"/><stop offset="1" stop-color="#d5d5d5"/></linearGradient><linearGradient id="v4" x1="0" x2="0" y1="0" y2="1"><stop offset="0" stop-color="#000" stop-opacity="0.02"/><stop offset="0.5" stop-color="#fff" stop-opacity="0"/><stop offset="1" stop-color="#fff" stop-opacity="0.05"/></linearGradient><clipPath id="c4"><rect x="164.6" y="902.4" width="317.00" height="52.50"/></clipPath></defs>
<g clip-path="url(#c0)"><rect x="164.6" y="596.8" width="317.00" height="52.20" fill="url(#g0)"/><rect x="164.6" y="596.8" width="317.00" height="52.20" fill="url(#v0)"/><g filter="url(#bl2)"><rect x="171" y="624.30" width="41" height="30.70" fill="#000" fill-opacity="0.05"/><rect x="224" y="624.60" width="42" height="30.40" fill="#000" fill-opacity="0.05"/><rect x="278" y="624.60" width="41" height="30.40" fill="#000" fill-opacity="0.05"/><rect x="331" y="625.10" width="41" height="29.90" fill="#000" fill-opacity="0.05"/><rect x="383" y="624.50" width="41" height="30.50" fill="#000" fill-opacity="0.05"/><rect x="435" y="623.00" width="40" height="32.00" fill="#000" fill-opacity="0.05"/><rect x="214.50" y="590.8" width="7" height="64.20" fill="#fff" fill-opacity="0.05"/><rect x="268.50" y="590.8" width="7" height="64.20" fill="#fff" fill-opacity="0.05"/><rect x="321.50" y="590.8" width="7" height="64.20" fill="#fff" fill-opacity="0.05"/><rect x="374.00" y="590.8" width="7" height="64.20" fill="#fff" fill-opacity="0.05"/><rect x="426.00" y="590.8" width="7" height="64.20" fill="#fff" fill-opacity="0.05"/></g><g filter="url(#bl)"><path d="M174.00 624.00Q190.70 626.70 207.40 623.40" fill="none" stroke="#000" stroke-opacity="0.95" stroke-width="3.4" stroke-linecap="round"/><path d="M228.10 624.60Q243.75 624.60 259.40 624.60" fill="none" stroke="#000" stroke-opacity="1" stroke-width="10.0" stroke-linecap="round"/><path d="M280.70 624.60Q295.85 625.05 311.00 624.90" fill="none" stroke="#000" stroke-opacity="1" stroke-width="8.4" stroke-linecap="round"/><path d="M333.10 625.50Q349.00 624.90 364.90 625.10" fill="none" stroke="#000" stroke-opacity="1" stroke-width="7.0" stroke-linecap="round"/><path d="M383.70 624.50Q400.20 625.10 416.70 624.50" fill="none" stroke="#000" stroke-opacity="1" stroke-width="5.4" stroke-linecap="round"/><path d="M436.60 623.40Q453.10 623.00 469.60 622.60" fill="none" stroke="#000" stroke-opacity="1" stroke-width="4.8" stroke-linecap="round"/></g><path d="M164.6 597.20H481.6M164.6 648.60H481.6" stroke="#000" stroke-opacity="0.22" stroke-width="0.9"/></g>
<g clip-path="url(#c1)"><rect x="164.6" y="673.0" width="317.00" height="52.20" fill="url(#g1)"/><rect x="164.6" y="673.0" width="317.00" height="52.20" fill="url(#v1)"/><g filter="url(#bl2)"><rect x="171" y="667.0" width="41" height="30.80" fill="#000" fill-opacity="0.15"/><rect x="224" y="667.0" width="42" height="30.10" fill="#000" fill-opacity="0.15"/><rect x="278" y="667.0" width="41" height="30.10" fill="#000" fill-opacity="0.15"/><rect x="331" y="667.0" width="41" height="29.90" fill="#000" fill-opacity="0.15"/><rect x="383" y="667.0" width="41" height="29.70" fill="#000" fill-opacity="0.15"/><rect x="435" y="667.0" width="40" height="29.50" fill="#000" fill-opacity="0.15"/><rect x="214.50" y="667.0" width="7" height="64.20" fill="#fff" fill-opacity="0.14"/><rect x="268.50" y="667.0" width="7" height="64.20" fill="#fff" fill-opacity="0.14"/><rect x="321.50" y="667.0" width="7" height="64.20" fill="#fff" fill-opacity="0.14"/><rect x="374.00" y="667.0" width="7" height="64.20" fill="#fff" fill-opacity="0.14"/><rect x="426.00" y="667.0" width="7" height="64.20" fill="#fff" fill-opacity="0.14"/><ellipse cx="241" cy="678.5" rx="8" ry="2.2" fill="#fff" fill-opacity="0.22"/><ellipse cx="352" cy="680" rx="17" ry="4.5" fill="#fff" fill-opacity="0.16"/></g><g filter="url(#bl)"><path d="M174.80 697.80Q191.65 697.80 208.50 697.80" fill="none" stroke="#000" stroke-opacity="1" stroke-width="9.0" stroke-linecap="round"/><path d="M227.50 697.40Q245.65 696.80 263.80 697.40" fill="none" stroke="#000" stroke-opacity="1" stroke-width="5.0" stroke-linecap="round"/><path d="M282.30 697.10Q298.90 697.90 315.50 697.10" fill="none" stroke="#000" stroke-opacity="1" stroke-width="7.0" stroke-linecap="round"/><path d="M334.80 696.90Q351.45 696.90 368.10 696.90" fill="none" stroke="#000" stroke-opacity="1" stroke-width="7.4" stroke-linecap="round"/><path d="M386.90 696.70Q403.00 696.70 419.10 696.70" fill="none" stroke="#000" stroke-opacity="1" stroke-width="9.0" stroke-linecap="round"/><path d="M438.90 696.50Q454.35 696.50 469.80 696.50" fill="none" stroke="#000" stroke-opacity="1" stroke-width="9.4" stroke-linecap="round"/></g><path d="M164.6 673.40H481.6M164.6 724.80H481.6" stroke="#000" stroke-opacity="0.1" stroke-width="0.9"/></g>
<g clip-path="url(#c2)"><rect x="164.6" y="749.4" width="317.00" height="52.60" fill="url(#g2)"/><rect x="164.6" y="749.4" width="317.00" height="52.60" fill="url(#v2)"/><g filter="url(#bl2)"><rect x="174" y="798.80" width="35" height="3" fill="#000" fill-opacity="0.10"/><rect x="227" y="798.80" width="36" height="3" fill="#000" fill-opacity="0.10"/><rect x="281" y="798.80" width="35" height="3" fill="#000" fill-opacity="0.10"/><rect x="334" y="798.80" width="35" height="3" fill="#000" fill-opacity="0.10"/><rect x="386" y="798.80" width="35" height="3" fill="#000" fill-opacity="0.10"/><rect x="438" y="798.80" width="34" height="3" fill="#000" fill-opacity="0.10"/></g><g filter="url(#bl)"><path d="M172.90 778.00Q190.45 775.90 208.00 777.40" fill="none" stroke="#000" stroke-opacity="1" stroke-width="5.2" stroke-linecap="round"/><path d="M225.90 777.80Q243.75 777.80 261.60 777.80" fill="none" stroke="#000" stroke-opacity="1" stroke-width="9.4" stroke-linecap="round"/><path d="M276.90 777.80Q295.50 777.80 314.10 777.80" fill="none" stroke="#000" stroke-opacity="1" stroke-width="7.8" stroke-linecap="round"/><path d="M331.20 777.80Q348.80 777.80 366.40 777.80" fill="none" stroke="#000" stroke-opacity="1" stroke-width="7.0" stroke-linecap="round"/><path d="M386.20 779.00Q404.40 779.00 422.60 779.00" fill="none" stroke="#000" stroke-opacity="1" stroke-width="5.8" stroke-linecap="round"/><path d="M439.40 779.40Q456.70 781.20 474.00 779.40" fill="none" stroke="#000" stroke-opacity="1" stroke-width="4.8" stroke-linecap="round"/></g><path d="M164.6 749.80H481.6M164.6 801.60H481.6" stroke="#000" stroke-opacity="0.18" stroke-width="0.9"/></g>
<g clip-path="url(#c3)"><rect x="164.6" y="826.3" width="317.00" height="52.30" fill="url(#g3)"/><rect x="164.6" y="826.3" width="317.00" height="52.30" fill="url(#v3)"/><g filter="url(#bl2)"><rect x="171" y="820.3" width="41" height="31.40" fill="#000" fill-opacity="0.15"/><rect x="171" y="851.70" width="41" height="32.90" fill="#000" fill-opacity="0.035"/><rect x="224" y="820.3" width="42" height="31.90" fill="#000" fill-opacity="0.15"/><rect x="224" y="852.20" width="42" height="32.40" fill="#000" fill-opacity="0.035"/><rect x="278" y="820.3" width="41" height="31.70" fill="#000" fill-opacity="0.15"/><rect x="278" y="852.00" width="41" height="32.60" fill="#000" fill-opacity="0.035"/><rect x="331" y="820.3" width="41" height="31.90" fill="#000" fill-opacity="0.15"/><rect x="331" y="852.20" width="41" height="32.40" fill="#000" fill-opacity="0.035"/><rect x="383" y="820.3" width="41" height="31.00" fill="#000" fill-opacity="0.15"/><rect x="383" y="851.30" width="41" height="33.30" fill="#000" fill-opacity="0.035"/><rect x="435" y="820.3" width="40" height="30.70" fill="#000" fill-opacity="0.15"/><rect x="435" y="851.00" width="40" height="33.60" fill="#000" fill-opacity="0.035"/><rect x="214.50" y="820.3" width="7" height="64.30" fill="#fff" fill-opacity="0.1"/><rect x="268.50" y="820.3" width="7" height="64.30" fill="#fff" fill-opacity="0.1"/><rect x="321.50" y="820.3" width="7" height="64.30" fill="#fff" fill-opacity="0.1"/><rect x="374.00" y="820.3" width="7" height="64.30" fill="#fff" fill-opacity="0.1"/><rect x="426.00" y="820.3" width="7" height="64.30" fill="#fff" fill-opacity="0.1"/></g><g filter="url(#bl)"><path d="M174.80 852.00Q191.90 851.70 209.00 851.40" fill="none" stroke="#000" stroke-opacity="0.6" stroke-width="3.2" stroke-linecap="round"/><path d="M228.40 852.20Q243.70 852.20 259.00 852.20" fill="none" stroke="#000" stroke-opacity="1" stroke-width="8.8" stroke-linecap="round"/><path d="M283.20 851.70Q298.90 853.10 314.60 851.70" fill="none" stroke="#000" stroke-opacity="1" stroke-width="7.8" stroke-linecap="round"/><path d="M335.70 852.50Q351.70 852.20 367.70 851.90" fill="none" stroke="#000" stroke-opacity="1" stroke-width="6.4" stroke-linecap="round"/><path d="M389.00 851.60Q404.70 850.00 420.40 851.60" fill="none" stroke="#000" stroke-opacity="1" stroke-width="4.4" stroke-linecap="round"/><path d="M439.90 851.90Q455.75 851.00 471.60 850.10" fill="none" stroke="#000" stroke-opacity="0.95" stroke-width="3.8" stroke-linecap="round"/></g><path d="M164.6 826.70H481.6M164.6 878.20H481.6" stroke="#000" stroke-opacity="0.16" stroke-width="0.9"/></g>
<g clip-path="url(#c4)"><rect x="164.6" y="902.4" width="317.00" height="52.50" fill="url(#g4)"/><rect x="164.6" y="902.4" width="317.00" height="52.50" fill="url(#v4)"/><g filter="url(#bl)"><path d="M171.70 927.00Q189.05 927.00 206.40 927.00" fill="none" stroke="#000" stroke-opacity="1" stroke-width="10.4" stroke-linecap="round"/><path d="M225.80 927.80Q243.45 927.80 261.10 927.80" fill="none" stroke="#000" stroke-opacity="1" stroke-width="10.4" stroke-linecap="round"/><path d="M279.50 927.40Q297.75 927.40 316.00 927.40" fill="none" stroke="#000" stroke-opacity="1" stroke-width="10.0" stroke-linecap="round"/><path d="M332.30 927.80Q350.40 927.80 368.50 927.80" fill="none" stroke="#000" stroke-opacity="1" stroke-width="10.4" stroke-linecap="round"/><path d="M386.20 927.80Q403.95 927.80 421.70 927.80" fill="none" stroke="#000" stroke-opacity="1" stroke-width="9.6" stroke-linecap="round"/><path d="M438.40 926.50Q456.25 926.50 474.10 926.50" fill="none" stroke="#000" stroke-opacity="1" stroke-width="9.6" stroke-linecap="round"/></g><path d="M164.6 902.80H481.6M164.6 954.50H481.6" stroke="#000" stroke-opacity="0.1" stroke-width="0.9"/></g>
<text transform="translate(39.50 632.50) scale(1.0600 1)" font-size="34" stroke="#000" stroke-width="0.7" stroke-linejoin="round">120 kDa</text>
<text transform="translate(40.20 708.80) scale(1.0850 1)" font-size="34" stroke="#000" stroke-width="0.7" stroke-linejoin="round">26 kDa</text>
<text transform="translate(40.20 785.50) scale(1.0850 1)" font-size="34" stroke="#000" stroke-width="0.7" stroke-linejoin="round">21 kDa</text>
<text transform="translate(40.20 862.00) scale(1.0850 1)" font-size="34" stroke="#000" stroke-width="0.7" stroke-linejoin="round">53 kDa</text>
<text transform="translate(40.20 938.00) scale(1.0850 1)" font-size="34" stroke="#000" stroke-width="0.7" stroke-linejoin="round">42 kDa</text>
<text transform="translate(494.60 635.00) scale(1.0450 1)" font-size="35" stroke="#000" stroke-width="0.7" stroke-linejoin="round">HIF-1α</text>
<text transform="translate(494.60 712.50) scale(1.0600 1)" font-size="35" stroke="#000" stroke-width="0.7" stroke-linejoin="round">Bcl-2</text>
<text transform="translate(494.60 789.50) scale(1.0450 1)" font-size="35" stroke="#000" stroke-width="0.7" stroke-linejoin="round">Bax</text>
<text transform="translate(494.60 865.00) scale(1.0450 1)" font-size="35" stroke="#000" stroke-width="0.7" stroke-linejoin="round">P53</text>
<text transform="translate(494.60 935.00) scale(1.0450 1)" font-size="35" stroke="#000" stroke-width="0.7" stroke-linejoin="round">β-actin</text>
</svg>
</body></html>
